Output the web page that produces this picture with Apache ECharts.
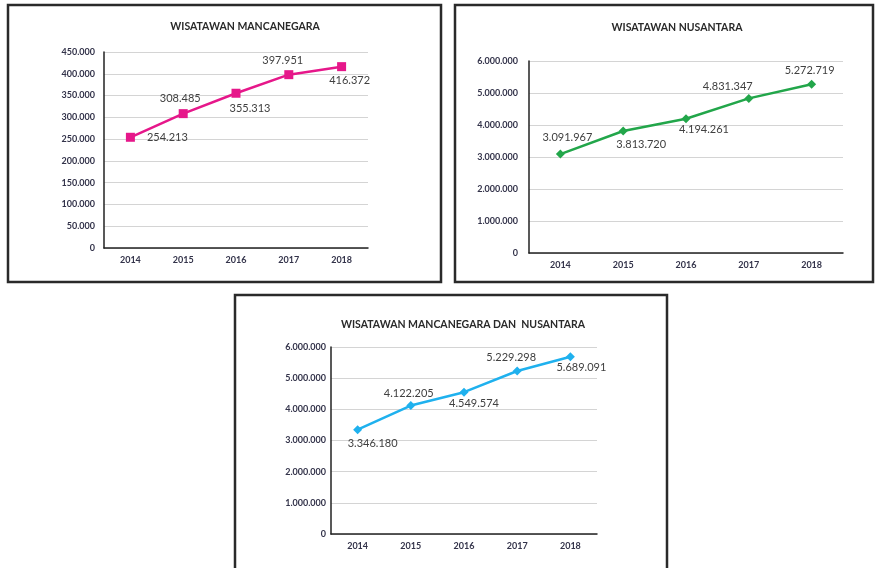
<!DOCTYPE html>
<html>
<head>
<meta charset="utf-8">
<script src="https://cdn.jsdelivr.net/npm/echarts@6/dist/echarts.min.js"></script>
<style>
html,body{margin:0;padding:0;background:#fff;}
#c{width:878px;height:568px;}
</style>
</head>
<body>
<div id="c"></div>
<script>
const years = ['2014', '2015', '2016', '2017', '2018'];
const mancanegara = [254213, 308485, 355313, 397951, 416372];
const nusantara = [3091967, 3813720, 4194261, 4831347, 5272719];
const gabungan = [3346180, 4122205, 4549574, 5229298, 5689091];
const titles = ['WISATAWAN MANCANEGARA', 'WISATAWAN NUSANTARA', 'WISATAWAN MANCANEGARA DAN  NUSANTARA'];

// label placement (offset from point centre)
const off1 = [[37, 0], [-3, -15], [14, 15], [-6, -14], [8, 14]];
const off2 = [[7, -17], [18, 13], [18, 11], [-21, -12], [-2, -14]];
const off3 = [[15, 14], [-2, -12], [10, 11], [-6, -14], [11, 11]];

function fmt(v) {
  return String(Math.round(v)).replace(/\B(?=(\d{3})+(?!\d))/g, '.');
}

const FONT = 'Lato, "Open Sans", sans-serif';
const grids = [
  {left: 104, top: 52, width: 264, height: 196},
  {left: 529, top: 61, width: 314, height: 192},
  {left: 331, top: 347, width: 266, height: 187}
];
const yCfg = [
  {max: 450000, interval: 50000, margin: 9},
  {max: 6000000, interval: 1000000, margin: 11},
  {max: 6000000, interval: 1000000, margin: 5}
];
const colors = ['#E6178A', '#22A64A', '#1FB1EE'];
const symbols = ['rect', 'diamond', 'diamond'];
const symSizes = [9, 9, 9];
const seriesData = [mancanegara, nusantara, gabungan];
const offs = [off1, off2, off3];

const xAxis = grids.map((g, i) => ({
  type: 'category', gridIndex: i, data: years, boundaryGap: true,
  axisLine: {show: true, lineStyle: {color: '#222', width: 1.5}},
  axisTick: {show: false},
  axisLabel: {color: '#33334a', fontSize: 9, fontWeight: 'bold', fontFamily: FONT, margin: 8}
}));
const yAxis = grids.map((g, i) => ({
  type: 'value', gridIndex: i, min: 0, max: yCfg[i].max, interval: yCfg[i].interval,
  axisLine: {show: true, lineStyle: {color: '#222', width: 1.5}},
  axisTick: {show: false},
  splitLine: {lineStyle: {color: '#d4d4d4', width: 1}},
  axisLabel: {color: '#33334a', fontSize: 9, fontWeight: 'bold', fontFamily: FONT, margin: yCfg[i].margin,
    formatter: v => fmt(v)}
}));
const series = seriesData.map((arr, i) => ({
  type: 'line', xAxisIndex: i, yAxisIndex: i,
  data: arr.map((v, j) => ({value: v, label: {offset: offs[i][j]}})),
  symbol: symbols[i], symbolSize: symSizes[i],
  lineStyle: {color: colors[i], width: 2.5},
  itemStyle: {color: colors[i]},
  label: {show: true, position: 'inside', color: '#404040', fontSize: 11, fontFamily: FONT,
    formatter: p => fmt(p.value)},
  animation: false
}));

const chart = echarts.init(document.getElementById('c'), null, {renderer: 'canvas'});
chart.setOption({
  backgroundColor: '#fff',
  animation: false,
  title: [
    {text: titles[0], left: 240, top: 16, textAlign: 'center'},
    {text: titles[1], left: 672, top: 17, textAlign: 'center'},
    {text: titles[2], left: 458, top: 314, textAlign: 'center'}
  ].map(t => Object.assign(t, {textStyle: {fontSize: 10.5, fontWeight: 'bold', color: '#2a2a2a', fontFamily: FONT}})),
  grid: grids,
  xAxis: xAxis,
  yAxis: yAxis,
  series: series,
  graphic: [
    {type: 'rect', shape: {x: 8, y: 5, width: 433, height: 277}, style: {fill: 'none', stroke: '#2a2a2a', lineWidth: 2.5}},
    {type: 'rect', shape: {x: 455, y: 5, width: 418, height: 277}, style: {fill: 'none', stroke: '#2a2a2a', lineWidth: 2.5}},
    {type: 'rect', shape: {x: 235, y: 295, width: 432, height: 290}, style: {fill: 'none', stroke: '#2a2a2a', lineWidth: 2.5}}
  ]
});
</script>
</body>
</html>
